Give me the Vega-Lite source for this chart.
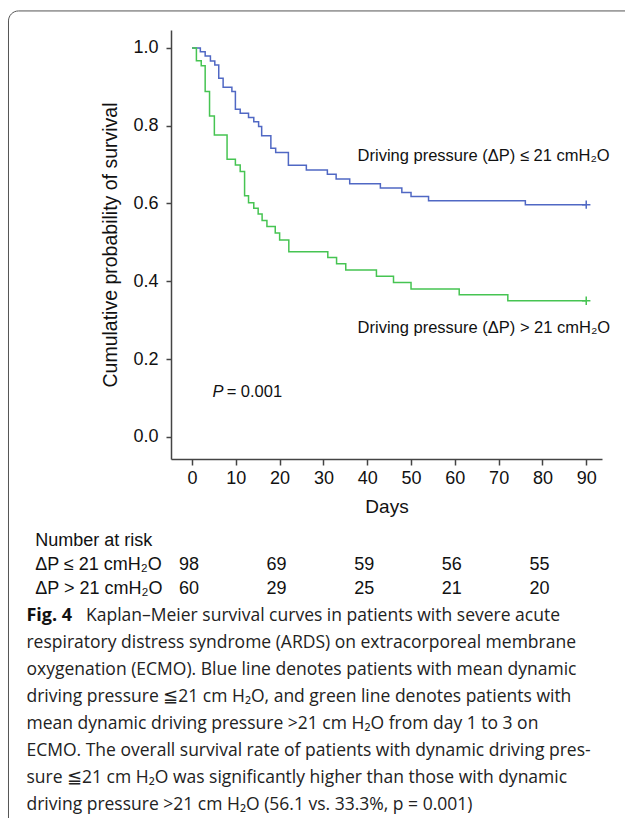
{
  "$schema": "https://vega.github.io/schema/vega-lite/v6.json",
  "width": 431,
  "height": 429,
  "autosize": {"type": "none"},
  "padding": {"left": 171, "top": 30, "right": 23, "bottom": 359},
  "background": "white",
  "config": {
    "view": {"stroke": null},
    "font": "Liberation Sans",
    "axis": {"grid": false, "domainColor": "#444", "tickColor": "#444", "domainWidth": 1.5, "tickWidth": 1.5, "labelColor": "#111", "titleColor": "#111", "labelFont": "Liberation Sans", "titleFont": "Liberation Sans", "titleFontWeight": "normal"}
  },
  "datasets": {
    "km": [
      {"group": "low", "day": 0, "surv": 1.0},
      {"group": "low", "day": 1.9, "surv": 0.990},
      {"group": "low", "day": 3.0, "surv": 0.979},
      {"group": "low", "day": 4.2, "surv": 0.966},
      {"group": "low", "day": 5.2, "surv": 0.956},
      {"group": "low", "day": 6.1, "surv": 0.922},
      {"group": "low", "day": 7.1, "surv": 0.899},
      {"group": "low", "day": 9.1, "surv": 0.888},
      {"group": "low", "day": 9.9, "surv": 0.842},
      {"group": "low", "day": 11.0, "surv": 0.832},
      {"group": "low", "day": 12.9, "surv": 0.821},
      {"group": "low", "day": 14.1, "surv": 0.810},
      {"group": "low", "day": 15.2, "surv": 0.798},
      {"group": "low", "day": 15.9, "surv": 0.774},
      {"group": "low", "day": 18.0, "surv": 0.742},
      {"group": "low", "day": 19.1, "surv": 0.731},
      {"group": "low", "day": 22.0, "surv": 0.698},
      {"group": "low", "day": 26.1, "surv": 0.686},
      {"group": "low", "day": 30.9, "surv": 0.675},
      {"group": "low", "day": 32.9, "surv": 0.663},
      {"group": "low", "day": 36.0, "surv": 0.651},
      {"group": "low", "day": 43.0, "surv": 0.640},
      {"group": "low", "day": 47.9, "surv": 0.628},
      {"group": "low", "day": 50.0, "surv": 0.618},
      {"group": "low", "day": 54.0, "surv": 0.607},
      {"group": "low", "day": 76.1, "surv": 0.597},
      {"group": "low", "day": 90.0, "surv": 0.597},
      {"group": "high", "day": 0, "surv": 1.0},
      {"group": "high", "day": 1.0, "surv": 0.967},
      {"group": "high", "day": 2.1, "surv": 0.954},
      {"group": "high", "day": 3.0, "surv": 0.888},
      {"group": "high", "day": 4.0, "surv": 0.825},
      {"group": "high", "day": 5.1, "surv": 0.776},
      {"group": "high", "day": 8.0, "surv": 0.714},
      {"group": "high", "day": 9.9, "surv": 0.699},
      {"group": "high", "day": 11.0, "surv": 0.682},
      {"group": "high", "day": 12.0, "surv": 0.620},
      {"group": "high", "day": 12.9, "surv": 0.602},
      {"group": "high", "day": 14.1, "surv": 0.588},
      {"group": "high", "day": 15.1, "surv": 0.573},
      {"group": "high", "day": 16.0, "surv": 0.556},
      {"group": "high", "day": 17.1, "surv": 0.541},
      {"group": "high", "day": 19.0, "surv": 0.524},
      {"group": "high", "day": 20.0, "surv": 0.506},
      {"group": "high", "day": 22.1, "surv": 0.476},
      {"group": "high", "day": 31.0, "surv": 0.461},
      {"group": "high", "day": 33.0, "surv": 0.445},
      {"group": "high", "day": 35.1, "surv": 0.429},
      {"group": "high", "day": 42.1, "surv": 0.413},
      {"group": "high", "day": 46.0, "surv": 0.397},
      {"group": "high", "day": 50.0, "surv": 0.380},
      {"group": "high", "day": 61.0, "surv": 0.365},
      {"group": "high", "day": 72.1, "surv": 0.350},
      {"group": "high", "day": 90.0, "surv": 0.350}
    ],
    "risk": [
      {"group": "low", "day": 0, "n": "98"},
      {"group": "low", "day": 20, "n": "69"},
      {"group": "low", "day": 40, "n": "59"},
      {"group": "low", "day": 60, "n": "56"},
      {"group": "low", "day": 80, "n": "55"},
      {"group": "high", "day": 0, "n": "60"},
      {"group": "high", "day": 20, "n": "29"},
      {"group": "high", "day": 40, "n": "25"},
      {"group": "high", "day": 60, "n": "21"},
      {"group": "high", "day": 80, "n": "20"}
    ]
  },
  "layer": [
    {
      "data": {"values": [{}]},
      "mark": {"type": "rect", "fill": "white", "fillOpacity": 0, "stroke": "#555", "strokeWidth": 1, "cornerRadius": 10},
      "encoding": {
        "x": {"datum": -41.9, "type": "quantitative"},
        "x2": {"datum": 160},
        "y": {"datum": 1.095, "type": "quantitative"},
        "y2": {"datum": -3}
      }
    },
    {
      "data": {"name": "km"},
      "mark": {"type": "line", "interpolate": "step-after", "strokeWidth": 1.5},
      "encoding": {
        "x": {
          "field": "day", "type": "quantitative",
          "scale": {"domain": [-4.8, 93.6], "nice": false, "zero": false},
          "axis": {"values": [0, 10, 20, 30, 40, 50, 60, 70, 80, 90], "title": "Days", "titleFontSize": 19, "labelFontSize": 18, "tickSize": 6, "labelPadding": 4, "titlePadding": 10}
        },
        "y": {
          "field": "surv", "type": "quantitative",
          "scale": {"domain": [-0.057, 1.046], "nice": false, "zero": false},
          "axis": {"values": [0, 0.2, 0.4, 0.6, 0.8, 1.0], "format": ".1f", "title": "Cumulative probability of survival", "titleFontSize": 19.5, "labelFontSize": 18, "tickSize": 5, "labelPadding": 8, "titlePadding": 12}
        },
        "color": {"field": "group", "type": "nominal", "scale": {"domain": ["low", "high"], "range": ["#5068c4", "#46c452"]}, "legend": null}
      }
    },
    {
      "data": {"name": "km"},
      "transform": [{"filter": "datum.day == 90"}],
      "mark": {"type": "point", "shape": "M-1,0H1M0,-1V1", "filled": false, "size": 70, "strokeWidth": 1.5, "opacity": 1},
      "encoding": {
        "x": {"field": "day", "type": "quantitative"},
        "y": {"field": "surv", "type": "quantitative"},
        "color": {"field": "group", "type": "nominal", "legend": null}
      }
    },
    {
      "data": {"values": [{}]},
      "mark": {"type": "text", "text": "Driving pressure (ΔP) ≤ 21 cmH₂O", "align": "left", "baseline": "middle", "fontSize": 16.5, "color": "#111"},
      "encoding": {"x": {"datum": 37.8, "type": "quantitative"}, "y": {"datum": 0.722, "type": "quantitative"}}
    },
    {
      "data": {"values": [{}]},
      "mark": {"type": "text", "text": "Driving pressure (ΔP) > 21 cmH₂O", "align": "left", "baseline": "middle", "fontSize": 16.5, "color": "#111"},
      "encoding": {"x": {"datum": 37.8, "type": "quantitative"}, "y": {"datum": 0.28, "type": "quantitative"}}
    },
    {
      "data": {"values": [{}]},
      "mark": {"type": "text", "text": "P", "align": "left", "baseline": "middle", "fontSize": 16.5, "fontStyle": "italic", "color": "#111"},
      "encoding": {"x": {"datum": 4.7, "type": "quantitative"}, "y": {"datum": 0.116, "type": "quantitative"}}
    },
    {
      "data": {"values": [{}]},
      "mark": {"type": "text", "text": "= 0.001", "align": "left", "baseline": "middle", "fontSize": 16.5, "color": "#111"},
      "encoding": {"x": {"datum": 7.9, "type": "quantitative"}, "y": {"datum": 0.116, "type": "quantitative"}}
    },
    {
      "data": {"values": [{}]},
      "mark": {"type": "text", "text": ["Number at risk", "ΔP ≤ 21 cmH₂O", "ΔP > 21 cmH₂O"], "align": "left", "baseline": "middle", "fontSize": 18, "lineHeight": 24, "color": "#111"},
      "encoding": {"x": {"datum": -35.8, "type": "quantitative"}, "y": {"datum": -0.268, "type": "quantitative"}}
    },
    {
      "data": {"name": "risk"},
      "transform": [{"filter": "datum.group == 'low'"}],
      "mark": {"type": "text", "align": "center", "baseline": "middle", "fontSize": 18, "dx": -3, "color": "#111"},
      "encoding": {"x": {"field": "day", "type": "quantitative"}, "y": {"datum": -0.33, "type": "quantitative"}, "text": {"field": "n"}}
    },
    {
      "data": {"name": "risk"},
      "transform": [{"filter": "datum.group == 'high'"}],
      "mark": {"type": "text", "align": "center", "baseline": "middle", "fontSize": 18, "dx": -3, "color": "#111"},
      "encoding": {"x": {"field": "day", "type": "quantitative"}, "y": {"datum": -0.392, "type": "quantitative"}, "text": {"field": "n"}}
    },
    {
      "data": {"values": [{}]},
      "mark": {"type": "text", "text": "Fig. 4", "align": "left", "baseline": "alphabetic", "fontSize": 18, "fontWeight": "bold", "font": "Open Sans", "color": "#111"},
      "encoding": {"x": {"datum": -37.8, "type": "quantitative"}, "y": {"datum": -0.473, "type": "quantitative"}}
    },
    {
      "data": {"values": [{}]},
      "mark": {"type": "text", "text": "Kaplan–Meier survival curves in patients with severe acute", "align": "left", "baseline": "alphabetic", "fontSize": 17.5, "font": "Open Sans", "color": "#222"},
      "encoding": {"x": {"datum": -24.2, "type": "quantitative"}, "y": {"datum": -0.473, "type": "quantitative"}}
    },
    {
      "data": {"values": [{}]},
      "mark": {"type": "text", "text": [
        "respiratory distress syndrome (ARDS) on extracorporeal membrane",
        "oxygenation (ECMO). Blue line denotes patients with mean dynamic",
        "driving pressure ≦21 cm H₂O, and green line denotes patients with",
        "mean dynamic driving pressure >21 cm H₂O from day 1 to 3 on",
        "ECMO. The overall survival rate of patients with dynamic driving pres-",
        "sure ≦21 cm H₂O was significantly higher than those with dynamic",
        "driving pressure >21 cm H₂O (56.1 vs. 33.3%, p = 0.001)"
      ], "align": "left", "baseline": "alphabetic", "fontSize": 17.5, "lineHeight": 27, "font": "Open Sans", "color": "#222"},
      "encoding": {"x": {"datum": -37.8, "type": "quantitative"}, "y": {"datum": -0.542, "type": "quantitative"}}
    }
  ]
}
